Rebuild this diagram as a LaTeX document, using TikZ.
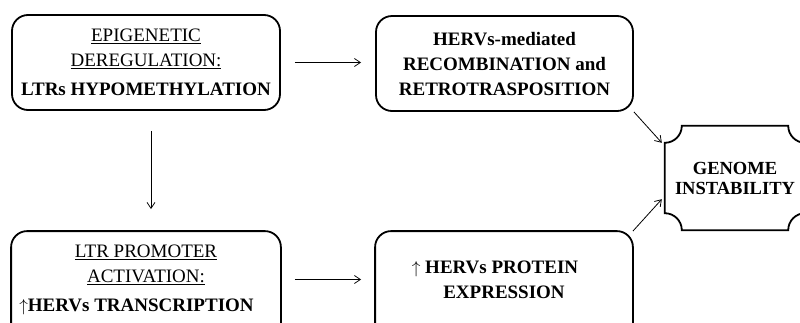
\documentclass[tikz,border=0pt]{standalone}
\usepackage{fontspec}
\setmainfont{Liberation Serif}
\usetikzlibrary{arrows.meta}
\tikzset{
  stage/.style={
    shape = rectangle,
    draw,
    line width = 1.8pt,
    rounded corners = 16pt,
    align = center,
    inner sep = 0pt,
    font = \fontsize{19}{25}\selectfont
  },
  frame/.style={
    line width = 1.8pt,
    rounded corners = 16pt
  },
  outcome/.style={
    shape = rectangle,
    align = center,
    inner sep = 0pt,
    minimum width = 140pt,
    minimum height = 104pt,
    font = \fontsize{18.5}{20}\selectfont\bfseries
  },
  notch/.style={
    line width = 1.8pt
  },
  flow/.style={
    line width = 0.8pt,
    -{Straight Barb[length=6pt,width=8pt]}
  },
}

\begin{document}
\begin{tikzpicture}[x=1pt, y=-1pt]
\useasboundingbox (0,0) rectangle (800,322);
      \node[stage, minimum width=268pt, minimum height=95pt] (epi) at (146,62.5)
        {\underline{EPIGENETIC}\\ \underline{DEREGULATION:}\\[4pt] \textbf{LTRs HYPOMETHYLATION}};
      \node[stage, minimum width=257pt, minimum height=95pt] (recomb) at (504.5,63.5)
        {\textbf{HERVs-mediated}\\ \textbf{RECOMBINATION and}\\ \textbf{RETROTRASPOSITION}};
      \node[stage, draw=none, minimum width=268pt, minimum height=95pt] (prom) at (146,279.5)
        {\underline{LTR PROMOTER}\\ \underline{ACTIVATION:}\\[4pt] $\uparrow$\textbf{HERVs TRANSCRIPTION}\hspace*{19pt}};
      \node[stage, draw=none, minimum width=256pt, minimum height=95pt] (prot) at (504,279.5)
        {$\uparrow$ \textbf{HERVs PROTEIN}\hspace*{18pt}\\ \textbf{EXPRESSION}};
      \node[outcome] (genome) at (735,178) {GENOME\\ INSTABILITY};
\draw[frame] (prom.north west) rectangle ([yshift=-40pt]prom.south east);
\draw[frame] (prot.north west) rectangle ([yshift=-40pt]prot.south east);
\draw[notch] ([yshift=-17pt]genome.north west) arc[start angle=-90, end angle=0, radius=17pt]
  -- ([xshift=-17pt]genome.north east) arc[start angle=180, end angle=270, radius=17pt]
  -- ([yshift=17pt]genome.south east) arc[start angle=90, end angle=180, radius=17pt]
  -- ([xshift=17pt]genome.south west) arc[start angle=0, end angle=90, radius=17pt]
  -- cycle;
\draw[flow, shorten <=14pt, shorten >=14pt] (epi.east) -- (epi.east -| recomb.west);
\draw[flow, shorten <=20pt, shorten >=22pt] ([xshift=5pt]epi.south) -- ([xshift=5pt]prom.north);
\draw[flow, shorten <=14pt, shorten >=14pt] (prom.east) -- (prom.east -| prot.west);
\draw[flow] (recomb.south east) -- ([xshift=-3pt, yshift=-17pt]genome.north west);
\draw[flow] (prot.north east) -- ([xshift=-3pt, yshift=31pt]genome.south west);
\end{tikzpicture}
\end{document}
